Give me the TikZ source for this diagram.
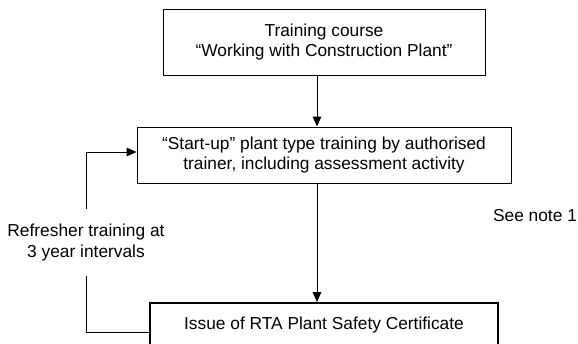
\documentclass[tikz,border=0pt]{standalone}
\usepackage{fontspec}
\setmainfont{Liberation Sans}
\usetikzlibrary{arrows.meta,calc}

\tikzset{every picture/.style={line width=0.75pt}}
\tikzset{
  boxnode/.style={draw, align=center, inner sep=0.75pt, font=\fontsize{13pt}{15.5pt}\selectfont},
  textnode/.style={align=center, inner sep=0.75pt, font=\fontsize{13pt}{15.5pt}\selectfont},
  arrowline/.style={-{Triangle[length=7.5pt,width=6.5pt]}}
}

\begin{document}
\begin{tikzpicture}[x=0.75pt,y=0.75pt,yscale=-1,xscale=1]
\useasboundingbox (0,0) rectangle (578,343);

% Box Nodes
\node [boxnode, minimum width=241.5pt, minimum height=49.5pt] (course) at (324,42) {Training course\\``Working with Construction Plant''};
\node [boxnode, minimum width=280.5pt, minimum height=42pt] (startup) at (324,155) {``Start-up'' plant type training by authorised\\trainer, including assessment activity};
\node [boxnode, line width=1.6pt, anchor=north, minimum width=261pt, minimum height=33pt] (cert) at (324,302) {Issue of RTA Plant Safety Certificate};

% Text Nodes
\node [textnode, minimum height=50pt] (refresh) at (86,242.5) {Refresher training at\\3 year intervals};
\node [textnode] (note) at (535,216) {See note 1};

%Straight Lines
\draw [arrowline] ($(course.south)+(-7,0)$) -- ($(startup.north)+(-7,0)$);
\draw [arrowline] ($(startup.south)+(-7,0)$) -- ($(cert.north)+(-7,0)$);
\draw ([yshift=5.25pt]cert.west) -| (refresh.south);
\draw [arrowline] (refresh.north) |- ([yshift=-2.25pt]startup.west);

\end{tikzpicture}
\end{document}
